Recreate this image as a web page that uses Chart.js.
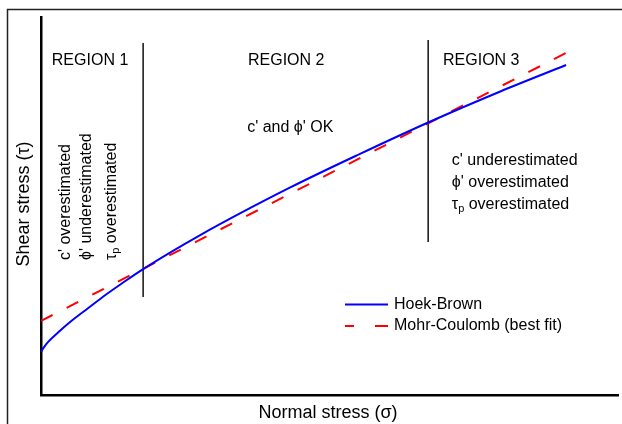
<!DOCTYPE html>
<html>
<head>
<meta charset="utf-8">
<script src="https://cdn.jsdelivr.net/npm/chart.js@4.4.0/dist/chart.umd.min.js"></script>
<style>
  html, body { margin: 0; padding: 0; background: #fff; }
  #wrap { width: 622px; height: 424px; position: relative; }
</style>
</head>
<body>
<div id="wrap"><canvas id="envelope"></canvas></div>
<script>
// normal stress (sigma) vs shear stress (tau), arbitrary units on both axes
const hoekBrownSigma = [0, 0.4, 1.2, 3.0, 5.2, 8.2, 11.1, 14.0, 17.7, 27.6, 43.2, 55.3, 67.1, 79.6, 91.0];
const hoekBrownTau = [11.4, 12.4, 14.0, 16.6, 19.5, 23.0, 26.4, 29.5, 33.3, 42.3, 54.9, 63.8, 72.1, 80.3, 87.3];
const mohrCoulombSigma = [0, 91.0];
const mohrCoulombTau = [19.6, 90.5];

// region dividers: sigma where each sits, and the tau span it covers
const dividerSigma = [17.7, 67.1];
const dividerTauLow = [25.9, 40.5];
const dividerTauHigh = [93.1, 93.9];

const regionNames = ['REGION 1', 'REGION 2', 'REGION 3'];
const seriesNames = ['Hoek-Brown', 'Mohr-Coulomb (best fit)'];

const FONT = '"Liberation Sans", Arial, sans-serif';
const toPoints = (xs, ys) => xs.map((x, i) => ({ x: x, y: ys[i] }));

const datasets = [
    {
        label: seriesNames[0],
        data: toPoints(hoekBrownSigma, hoekBrownTau),
        borderColor: '#0000ff',
        borderWidth: 2,
        cubicInterpolationMode: 'monotone',
        pointRadius: 0
    },
    {
        label: seriesNames[1],
        data: toPoints(mohrCoulombSigma, mohrCoulombTau),
        borderColor: '#ff0000',
        borderWidth: 2,
        borderDash: [13, 15.8],
        pointRadius: 0
    }
];
dividerSigma.forEach((s, i) => {
    datasets.push({
        label: 'divider',
        data: [{ x: s, y: dividerTauLow[i] }, { x: s, y: dividerTauHigh[i] }],
        borderColor: '#111',
        borderWidth: 1.5,
        pointRadius: 0
    });
});

// draws a run of text pieces, some of them as subscripts, starting at x
function drawRich(ctx, parts, x, y, size) {
    let cx = x;
    parts.forEach(p => {
        if (p.sub) {
            ctx.font = `${Math.round(size * 0.68)}px ${FONT}`;
            ctx.fillText(p.t, cx, y + size * 0.28);
        } else {
            ctx.font = `${size}px ${FONT}`;
            ctx.fillText(p.t, cx, y);
        }
        cx += ctx.measureText(p.t).width;
    });
}

const annotations = {
    id: 'annotations',
    beforeDraw(chart) {
        const ctx = chart.ctx;
        // frame round the figure
        ctx.save();
        ctx.strokeStyle = '#222';
        ctx.lineWidth = 1.5;
        ctx.beginPath();
        ctx.moveTo(7.5, 430);
        ctx.lineTo(7.5, 9.5);
        ctx.lineTo(630, 9.5);
        ctx.stroke();
        ctx.restore();
    },
    afterDraw(chart) {
        const ctx = chart.ctx;
        const xs = chart.scales.x;
        const ys = chart.scales.y;
        const px = v => xs.getPixelForValue(v);
        const py = v => ys.getPixelForValue(v);
        ctx.save();
        ctx.fillStyle = '#000';
        ctx.textBaseline = 'middle';

        // region headings
        ctx.font = `16px ${FONT}`;
        ctx.textAlign = 'center';
        ctx.fillText(regionNames[0], px(8.5), py(88.5));
        ctx.fillText(regionNames[1], px(42.5), py(88.5));
        ctx.fillText(regionNames[2], px(76.3), py(88.5));
        ctx.fillText('c\' and \u03d5\' OK', px(43.2), py(70.8));

        // region 3 notes
        ctx.textAlign = 'left';
        const x3 = px(71.2);
        drawRich(ctx, [{ t: 'c\' underestimated' }], x3, py(61.9), 16);
        drawRich(ctx, [{ t: '\u03d5\' overestimated' }], x3, py(56.3), 16);
        drawRich(ctx, [{ t: '\u03c4' }, { t: 'p', sub: true }, { t: ' overestimated' }], x3, py(50.5), 16);

        // region 1 notes, reading upwards
        const notes1 = [
            [{ t: 'c\' overestimated' }],
            [{ t: '\u03d5\' underestimated' }],
            [{ t: '\u03c4' }, { t: 'p', sub: true }, { t: ' overestimated' }]
        ];
        [4.3, 7.9, 12.2].forEach((s, i) => {
            ctx.save();
            ctx.translate(px(s), py(35.7));
            ctx.rotate(-Math.PI / 2);
            drawRich(ctx, notes1[i], 0, 0, 16);
            ctx.restore();
        });

        // axis titles
        ctx.font = `18px ${FONT}`;
        ctx.textAlign = 'center';
        ctx.fillText('Normal stress (\u03c3)', 328, 413.5);
        ctx.save();
        ctx.translate(24, 204);
        ctx.rotate(-Math.PI / 2);
        ctx.fillText('Shear stress (\u03c4)', 0, 0);
        ctx.restore();

        // legend
        const lx = 345, lw = 43;
        const rows = [304.5, 326];
        ctx.lineWidth = 2;
        ctx.strokeStyle = datasets[0].borderColor;
        ctx.beginPath();
        ctx.moveTo(lx, rows[0]);
        ctx.lineTo(lx + lw, rows[0]);
        ctx.stroke();
        ctx.strokeStyle = datasets[1].borderColor;
        ctx.beginPath();
        ctx.moveTo(lx, rows[1]);
        ctx.lineTo(lx + 9, rows[1]);
        ctx.moveTo(lx + 30, rows[1]);
        ctx.lineTo(lx + lw, rows[1]);
        ctx.stroke();
        ctx.font = `16px ${FONT}`;
        ctx.textAlign = 'left';
        ctx.fillText(seriesNames[0], lx + lw + 6, rows[0]);
        ctx.fillText(seriesNames[1], lx + lw + 6, rows[1]);
        ctx.restore();
    }
};

const axisOpts = {
    type: 'linear',
    min: 0,
    max: 100,
    ticks: { display: false },
    grid: { display: false, drawTicks: false },
    border: { display: true, color: '#000', width: 2.5 }
};

new Chart(document.getElementById('envelope'), {
    type: 'line',
    data: { datasets: datasets },
    options: {
        responsive: true,
        maintainAspectRatio: false,
        animation: false,
        layout: { padding: { left: 41, top: 17, right: 4, bottom: 29 } },
        plugins: { legend: { display: false }, tooltip: { enabled: false } },
        scales: {
            x: axisOpts,
            y: Object.assign({}, axisOpts)
        }
    },
    plugins: [annotations]
});
</script>
</body>
</html>
